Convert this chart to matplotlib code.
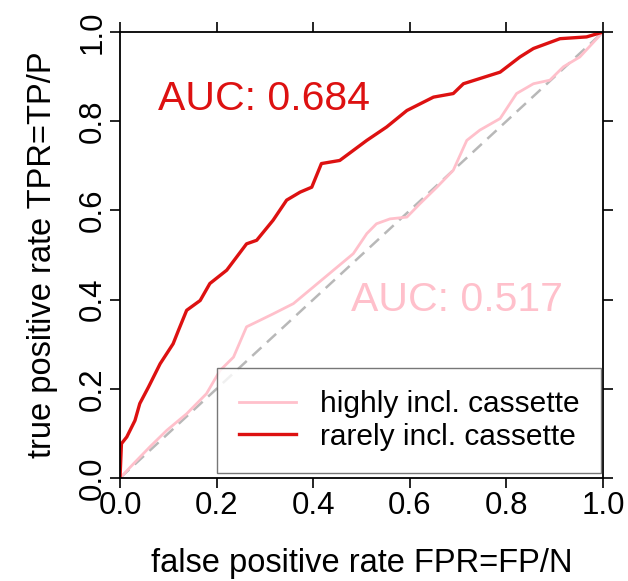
import matplotlib
matplotlib.use("Agg")
import matplotlib.pyplot as plt

# ROC curve: rarely included cassette exons
rare_fpr = [0.0, 0.003, 0.014, 0.031, 0.041, 0.059, 0.083, 0.110, 0.121, 0.138, 0.166,
            0.186, 0.221, 0.262, 0.283, 0.317, 0.345, 0.373, 0.397, 0.417, 0.455,
            0.511, 0.552, 0.594, 0.649, 0.690, 0.711, 0.787, 0.828, 0.856, 0.911,
            0.966, 1.0]
rare_tpr = [0.0, 0.077, 0.092, 0.129, 0.167, 0.204, 0.256, 0.301, 0.331, 0.376, 0.398,
            0.436, 0.466, 0.525, 0.533, 0.578, 0.623, 0.641, 0.652, 0.705, 0.712,
            0.757, 0.787, 0.824, 0.854, 0.862, 0.884, 0.910, 0.944, 0.963, 0.985,
            0.989, 1.0]

# highly included cassette exons
high_fpr = [0.0, 0.028, 0.062, 0.097, 0.138, 0.179, 0.207, 0.235, 0.262, 0.283, 0.317,
            0.359, 0.400, 0.442, 0.483, 0.511, 0.531, 0.559, 0.594, 0.621, 0.656,
            0.690, 0.718, 0.745, 0.787, 0.821, 0.856, 0.890, 0.918, 0.952, 1.0]
high_tpr = [0.0, 0.032, 0.070, 0.107, 0.144, 0.189, 0.241, 0.271, 0.339, 0.350, 0.368,
            0.391, 0.428, 0.466, 0.503, 0.548, 0.570, 0.581, 0.585, 0.615, 0.652,
            0.690, 0.757, 0.780, 0.806, 0.862, 0.884, 0.892, 0.922, 0.944, 1.0]

auc_rare = 0.684
auc_high = 0.517
ticks = [0.0, 0.2, 0.4, 0.6, 0.8, 1.0]

red = "#dd1111"
pink = "#ffc0cb"

plt.rcParams["font.family"] = ["Liberation Sans", "DejaVu Sans"]

fig = plt.figure(figsize=(6.28, 5.81), dpi=100)
ax = fig.add_axes([120 / 628, 1 - 478 / 581, 483 / 628, 446 / 581])

ax.plot([0, 1], [0, 1], color="#b8b8b8", linestyle=(0, (5, 3)), linewidth=1.8)
ax.plot(high_fpr, high_tpr, color=pink, linewidth=2.0, label="highly incl. cassette")
ax.plot(rare_fpr, rare_tpr, color=red, linewidth=2.4, label="rarely incl. cassette")

ax.text(0.298, 0.85, f"AUC: {auc_rare}", color=red, fontsize=29.5,
        ha="center", va="center")
ax.text(0.698, 0.40, f"AUC: {auc_high}", color=pink, fontsize=29.5,
        ha="center", va="center")

ax.set_xlim(0, 1)
ax.set_ylim(0, 1)
ax.set_xticks(ticks)
ax.set_yticks(ticks)
ax.set_xticklabels([f"{t:.1f}" for t in ticks], fontsize=22.5)
ax.set_yticklabels([f"{t:.1f}" for t in ticks], fontsize=22.5, rotation=90, va="center")
ax.tick_params(axis="both", direction="out", length=7, width=1.2, pad=2,
               top=True, right=True, labeltop=False, labelright=False)
for sp in ax.spines.values():
    sp.set_linewidth(1.3)

ax.set_xlabel("false positive rate FPR=FP/N", fontsize=23.5, labelpad=20)
ax.set_ylabel("true positive rate TPR=TP/P", fontsize=23.5, labelpad=14)

leg = ax.legend(loc="lower right", bbox_to_anchor=(0.2, 0.011, 0.795, 0.238),
                mode="expand", fontsize=21.5, frameon=True, fancybox=False,
                handlelength=1.9, borderaxespad=0, handletextpad=0.8,
                borderpad=0.75, labelspacing=0.15)
leg.get_frame().set_edgecolor("#555555")
leg.get_frame().set_linewidth(1.0)

fig.savefig("out.png", dpi=100)
